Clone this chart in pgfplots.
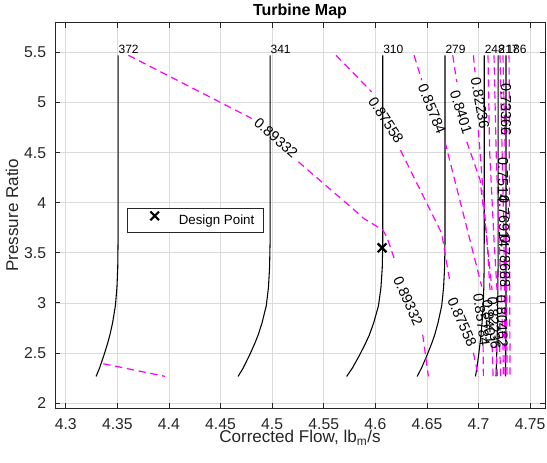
\documentclass[border=0pt]{standalone}
\usepackage{pgfplots}
\pgfplotsset{compat=1.18}
\usepackage{fontspec}
\setmainfont{Liberation Sans}

\definecolor{axgray}{rgb}{0.15,0.15,0.15}
\definecolor{effmag}{rgb}{1,0,1}
\tikzset{
  spdlbl/.style={pos=1, anchor=base west, inner sep=0pt, yshift=1.2pt,
    font=\fontsize{9}{11}\selectfont},
  efflbl/.style={inner sep=0pt, font=\fontsize{10.8}{12}\selectfont},
}

\begin{document}
\begin{tikzpicture}
\path[use as bounding box] (-41.25pt,-41.25pt) rectangle (369pt,306pt);
\begin{axis}[
  at={(0,0)}, anchor=south west,
  scale only axis, width=367.5pt, height=289.1pt,
  xmin=4.2896, xmax=4.7644, ymin=1.95, ymax=5.8,
  xtick={4.3,4.35,4.4,4.45,4.5,4.55,4.6,4.65,4.7,4.75},
  ytick={2,2.5,3,3.5,4,4.5,5,5.5},
  /pgf/number format/assume math mode=true,
  grid=major,
  major grid style={line width=0.5pt, draw=black!14},
  axis line style={line width=0.6pt, draw=axgray},
  tick style={line width=0.6pt, draw=axgray},
  major tick length=4pt,
  tick align=inside,
  ticklabel style={font=\fontsize{11.8}{13}\selectfont, text=axgray},
  xticklabel style={yshift=-4.6pt},
  yticklabel style={xshift=-3.2pt},
  title={\textbf{Turbine Map}},
  every axis title/.style={at={(0.5,1)}, anchor=base, yshift=4.9pt,
    inner sep=0pt, font=\fontsize{12}{14}\selectfont},
  xlabel={Corrected Flow, lb\textsubscript{m}/s},
  ylabel={Pressure Ratio},
  xlabel style={at={(axis description cs:0.5,-0.0908)}, anchor=base,
    inner sep=0pt, font=\fontsize{12.8}{14}\selectfont, text=axgray},
  ylabel style={at={(axis description cs:-0.0878,0.5)}, anchor=center,
    inner sep=0pt, font=\fontsize{12.8}{14}\selectfont, text=axgray},
  unbounded coords=jump,
  legend style={at={(axis cs:4.3591,3.9447)}, anchor=north west,
    draw=axgray, line width=0.5pt, fill=white,
    inner xsep=4.5pt, inner ysep=2.2pt,
    font=\fontsize{10}{12}\selectfont,
    cells={anchor=west, inner sep=0pt},
    /tikz/every even column/.append style={column sep=0pt}},
  legend image code/.code={\path[draw=none, fill=none] (0pt,0pt) -- (32.3pt,0pt);
    \draw[#1] plot coordinates {(16.2pt,3.5pt)};},
  speed/.style={black, line width=0.8pt, forget plot},
  eff/.style={effmag, line width=0.9pt, dash pattern=on 5.5pt off 3.5pt, forget plot},
]

% corrected speed lines
\addplot[speed] coordinates {(4.3294,2.265)(4.3328,2.35)(4.3371,2.48)(4.3407,2.60)(4.3428,2.68)(4.3454,2.80)(4.3481,2.97)(4.3496,3.15)(4.3504,3.35)(4.3507,3.6)(4.3507,5.473)} node[spdlbl]{372};
\addplot[speed] coordinates {(4.4670,2.265)(4.4720,2.35)(4.4782,2.48)(4.4834,2.60)(4.4865,2.68)(4.4902,2.80)(4.4943,2.97)(4.4964,3.15)(4.4975,3.35)(4.4980,3.6)(4.4980,5.473)} node[spdlbl]{341};
\addplot[speed] coordinates {(4.5722,2.265)(4.5778,2.35)(4.5848,2.48)(4.5907,2.60)(4.5942,2.68)(4.5984,2.80)(4.6030,2.97)(4.6054,3.15)(4.6067,3.35)(4.6072,3.6)(4.6072,5.473)} node[spdlbl]{310};
\addplot[speed] coordinates {(4.6405,2.265)(4.6448,2.35)(4.6502,2.48)(4.6548,2.60)(4.6575,2.68)(4.6607,2.80)(4.6643,2.97)(4.6661,3.15)(4.6671,3.35)(4.6675,3.6)(4.6675,5.473)} node[spdlbl]{279};
\addplot[speed] coordinates {(4.6970,2.265)(4.6984,2.35)(4.7001,2.48)(4.7015,2.60)(4.7024,2.68)(4.7034,2.80)(4.7045,2.97)(4.7051,3.15)(4.7054,3.35)(4.7055,3.6)(4.7055,5.473)} node[spdlbl]{248};
\addplot[speed] coordinates {(4.7169,2.265)(4.7176,2.48)(4.7184,2.80)(4.7189,3.35)(4.7189,5.473)} node[spdlbl]{217};
\addplot[speed] coordinates {(4.7262,2.265)(4.7266,2.8)(4.7266,5.473)} node[spdlbl]{186};

% efficiency contours (gaps leave room for the inline labels)
\addplot[eff] coordinates {(4.3607,5.473)(4.4802,4.842)(nan,nan)(4.5254,4.409)(4.5852,3.878)(4.5884,3.845)(4.6072,3.728)(4.6110,3.662)(4.6181,3.449)(nan,nan)(4.6459,2.682)(4.6514,2.266)};
\addplot[eff] coordinates {(4.3364,2.392)(4.3962,2.266)};
\addplot[eff] coordinates {(4.5619,5.473)(4.5965,5.107)(nan,nan)(4.6243,4.526)(4.6643,3.695)(4.6724,3.200)(nan,nan)(4.6950,2.502)(4.6998,2.266)};
\addplot[eff] coordinates {(4.6375,5.473)(4.6450,5.224)(nan,nan)(4.6675,4.609)(4.7031,3.163)(nan,nan)(4.7044,2.582)(4.7047,2.266)};
\addplot[eff] coordinates {(4.6750,5.473)(4.6789,5.207)(nan,nan)(4.6886,4.609)(4.7015,4.227)(4.7082,3.629)(4.7111,3.130)(nan,nan)(4.7131,2.582)(4.7141,2.263)};
\addplot[eff] coordinates {(4.6950,5.473)(4.6966,5.304)(nan,nan)(4.6998,4.725)(4.7080,3.629)(4.7131,3.130)(nan,nan)(4.7170,2.582)(4.7182,2.266)};
\addplot[eff] coordinates {(4.7092,5.473)(4.7107,4.526)(4.7150,3.629)(4.7179,3.130)(nan,nan)(4.7204,2.582)(4.7215,2.266)};
\addplot[eff] coordinates {(4.7150,5.473)(4.7170,4.526)(4.7199,3.629)(4.7218,3.130)(4.7237,2.582)(4.7240,2.266)};
\addplot[eff] coordinates {(4.7208,5.473)(4.7228,4.526)(4.7247,3.629)(4.7257,2.266)};
\addplot[eff] coordinates {(4.7237,5.473)(4.7257,4.526)(4.7271,3.43)(4.7276,2.266)};
\addplot[eff] coordinates {(4.7296,5.473)(4.7300,3.8)(4.7305,2.266)};

% contour labels
\node[efflbl, rotate=-41] at (axis cs:4.5038,4.646) {0.89332};
\node[efflbl, rotate=-66] at (axis cs:4.6317,3.020) {0.89332};
\node[efflbl, rotate=-57] at (axis cs:4.6104,4.825) {0.87558};
\node[efflbl, rotate=-66] at (axis cs:4.6841,2.810) {0.87558};
\node[efflbl, rotate=-68] at (axis cs:4.6549,4.935) {0.85784};
\node[efflbl, rotate=-82] at (axis cs:4.7029,2.831) {0.85784};
\node[efflbl, rotate=-72] at (axis cs:4.6831,4.904) {0.8401};
\node[efflbl, rotate=-85] at (axis cs:4.7102,2.811) {0.8401};
\node[efflbl, rotate=-80] at (axis cs:4.7015,4.994) {0.82236};
\node[efflbl, rotate=-86] at (axis cs:4.7150,2.800) {0.82236};
\node[efflbl, rotate=-88] at (axis cs:4.7228,2.811) {0.80462};
\node[efflbl, rotate=-90] at (axis cs:4.7257,3.409) {0.78688};
\node[efflbl, rotate=-90] at (axis cs:4.7247,3.808) {0.76914};
\node[efflbl, rotate=-90] at (axis cs:4.7237,4.227) {0.7514};
\node[efflbl, rotate=-90] at (axis cs:4.7267,4.935) {0.73366};

% design point
\addplot[only marks, mark=x, mark size=4.6pt, line width=1.6pt, black]
  coordinates {(4.6065,3.55)};
\addlegendentry{Design Point}
\end{axis}
\end{tikzpicture}
\end{document}
